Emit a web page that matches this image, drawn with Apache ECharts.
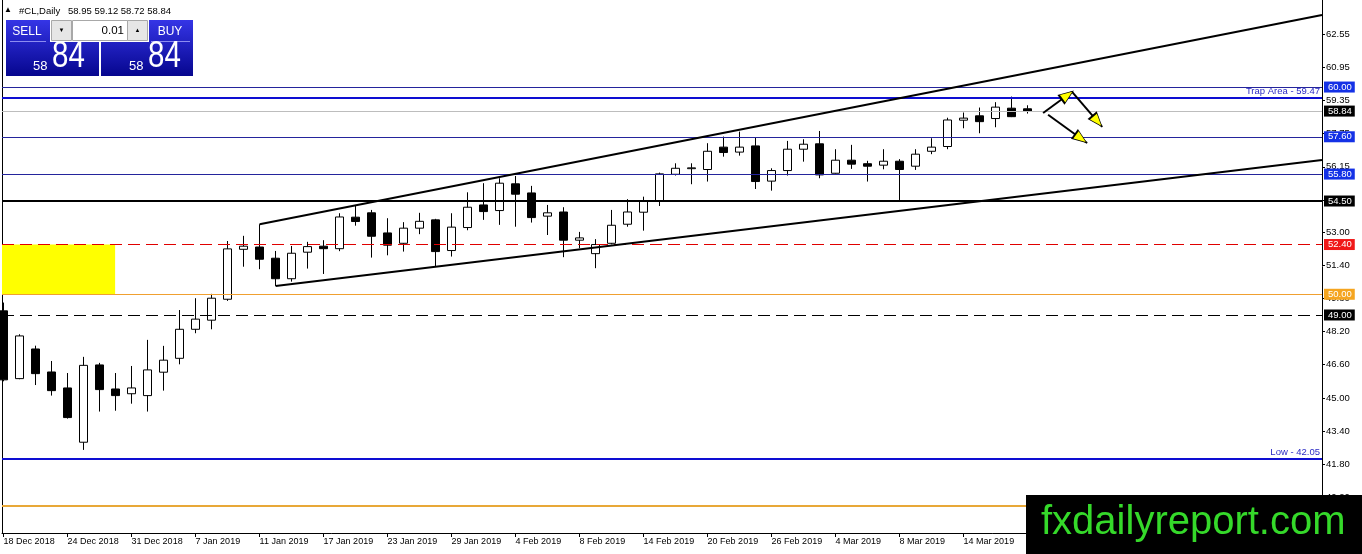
<!DOCTYPE html>
<html>
<head>
<meta charset="utf-8">
<title>#CL,Daily</title>
<script src="https://cdn.jsdelivr.net/npm/echarts@6/dist/echarts.min.js"></script>
<style>
html, body { margin: 0; padding: 0; background: #fff; }
#chart { width: 1362px; height: 554px; }
</style>
</head>
<body>
<div id="chart"></div>
<script>
// 日线数据 (开 收 低 高)
var dates = [
    '18 Dec 2018', '19 Dec 2018', '20 Dec 2018', '21 Dec 2018', '24 Dec 2018', '26 Dec 2018', '27 Dec 2018', '28 Dec 2018',
    '31 Dec 2018', '2 Jan 2019', '3 Jan 2019', '4 Jan 2019', '7 Jan 2019', '8 Jan 2019', '9 Jan 2019', '10 Jan 2019',
    '11 Jan 2019', '14 Jan 2019', '15 Jan 2019', '16 Jan 2019', '17 Jan 2019', '18 Jan 2019', '21 Jan 2019', '22 Jan 2019',
    '23 Jan 2019', '24 Jan 2019', '25 Jan 2019', '28 Jan 2019', '29 Jan 2019', '30 Jan 2019', '31 Jan 2019', '1 Feb 2019',
    '4 Feb 2019', '5 Feb 2019', '6 Feb 2019', '7 Feb 2019', '8 Feb 2019', '11 Feb 2019', '12 Feb 2019', '13 Feb 2019',
    '14 Feb 2019', '15 Feb 2019', '18 Feb 2019', '19 Feb 2019', '20 Feb 2019', '21 Feb 2019', '22 Feb 2019', '25 Feb 2019',
    '26 Feb 2019', '27 Feb 2019', '28 Feb 2019', '1 Mar 2019', '4 Mar 2019', '5 Mar 2019', '6 Mar 2019', '7 Mar 2019',
    '8 Mar 2019', '11 Mar 2019', '12 Mar 2019', '13 Mar 2019', '14 Mar 2019', '15 Mar 2019', '18 Mar 2019', '19 Mar 2019',
    '20 Mar 2019'
];
var opens = [
    49.20, 45.93, 47.36, 46.25, 45.48, 42.86, 46.59, 45.43, 45.20, 45.11, 46.24, 46.91, 48.31, 48.75, 49.76, 52.17,
    52.28, 51.74, 50.75, 52.03, 52.32, 52.20, 53.72, 53.93, 52.96, 52.46, 53.19, 53.59, 52.11, 53.22, 54.31, 54.04,
    55.33, 54.89, 53.77, 53.97, 52.61, 51.96, 52.46, 53.38, 53.96, 54.50, 55.79, 56.06, 56.02, 57.10, 56.86, 57.16,
    55.46, 55.97, 57.00, 57.26, 55.84, 56.47, 56.30, 56.23, 56.42, 56.18, 56.90, 57.13, 58.40, 58.61, 58.48, 58.98,
    58.95
];
var closes = [
    45.87, 47.99, 46.17, 45.35, 44.05, 46.57, 45.40, 45.11, 45.48, 46.35, 46.82, 48.31, 48.80, 49.81, 52.19, 52.32,
    51.69, 50.75, 51.98, 52.30, 52.20, 53.73, 53.51, 52.80, 52.37, 53.19, 53.52, 52.06, 53.24, 54.20, 53.99, 55.36,
    54.83, 53.70, 53.93, 52.61, 52.72, 52.40, 53.33, 53.97, 54.50, 55.81, 56.08, 56.10, 56.90, 56.84, 57.10, 55.44,
    55.97, 57.00, 57.24, 55.76, 56.47, 56.28, 56.18, 56.42, 56.02, 56.76, 57.10, 58.41, 58.50, 58.33, 59.03, 58.57,
    58.84
];
var lows = [
    45.80, 45.90, 45.62, 45.11, 44.00, 42.49, 44.34, 44.38, 44.72, 44.34, 45.35, 46.62, 48.12, 48.31, 49.68, 51.33,
    51.21, 50.40, 50.61, 51.24, 50.98, 52.08, 53.31, 51.77, 51.88, 52.06, 52.90, 51.33, 51.82, 53.09, 53.59, 53.35,
    53.26, 53.46, 52.86, 51.79, 52.22, 51.26, 52.41, 53.26, 53.07, 54.26, 55.73, 55.31, 55.44, 56.64, 56.69, 55.08,
    55.00, 55.73, 56.40, 55.60, 55.82, 56.05, 55.44, 56.03, 54.55, 56.00, 56.76, 57.00, 58.01, 57.77, 58.06, 58.55,
    58.72
];
var highs = [
    49.60, 48.07, 47.52, 46.78, 46.20, 46.98, 46.69, 46.20, 46.54, 47.80, 47.51, 49.24, 49.81, 50.02, 52.57, 52.82,
    53.38, 52.09, 52.33, 52.53, 52.61, 53.91, 54.26, 54.07, 53.67, 53.48, 53.93, 53.64, 53.91, 54.92, 55.36, 55.60,
    55.71, 55.23, 54.31, 54.20, 53.01, 52.66, 54.07, 54.59, 54.71, 55.87, 56.32, 56.32, 57.29, 57.61, 57.85, 57.56,
    56.08, 57.40, 57.48, 57.88, 57.00, 57.21, 56.44, 57.00, 56.52, 57.00, 57.53, 58.52, 58.77, 59.01, 59.27, 59.54,
    59.12
];

// 坐标轴刻度
var xTicks = [0, 4, 8, 12, 16, 20, 24, 28, 32, 36, 40, 44, 48, 52, 56, 60, 64];
var yTicks = [40.20, 41.80, 43.40, 45.00, 46.60, 48.20, 49.80, 51.40, 53.00, 54.55, 56.15, 57.75, 59.35, 60.95, 62.55];

// 水平价位线
var levels = [60.00, 59.47, 58.84, 57.60, 55.80, 54.50, 52.40, 50.00, 49.00, 42.05, 39.80];
var levelNotes = ['', 'Trap Area - 59.47', '', '', '', '', '', '', '', 'Low - 42.05', ''];

// 通道线 / 箭头 / 黄色区域 (x = K线序号, y = 价格)
var channelUpper = [[16, 53.38], [82.4, 63.48]];
var channelLower = [[17, 50.40], [82.4, 56.48]];
var arrows = [
    [[64.97, 58.75], [66.78, 59.77]],
    [[66.78, 59.77], [68.66, 58.08]],
    [[65.28, 58.66], [67.72, 57.30]]
];
var trapZone = [[-0.1, 52.40], [6.97, 50.00]];

var quote = ['58.95', '59.12', '58.72', '58.84'];
var bidBig = ['58', '84'];

var font = '"Liberation Sans", Arial, sans-serif';
var blueBox = '#1431e6';

var levelStyles = [
    { color: '#24249c', width: 1, type: 'solid', box: blueBox },
    { color: '#0e0ed2', width: 2, type: 'solid', box: null },
    { color: '#bdbdbd', width: 1, type: 'solid', box: '#000' },
    { color: '#24249c', width: 1, type: 'solid', box: blueBox },
    { color: '#24249c', width: 1, type: 'solid', box: blueBox },
    { color: '#000', width: 2, type: 'solid', box: '#000' },
    { color: '#e00000', width: 1, type: [12, 6], box: '#f01818' },
    { color: '#f0a030', width: 1, type: 'solid', box: '#f5a520' },
    { color: '#000', width: 1, type: [12, 6], box: '#000' },
    { color: '#0e0ed2', width: 2, type: 'solid', box: null },
    { color: '#e8a838', width: 2, type: 'solid', box: null }
];

(function () {
    var myChart = echarts.init(document.getElementById('chart'));

    var candles = dates.map(function (d, i) {
        return [i, opens[i], closes[i], lows[i], highs[i]];
    });

    var lines = [];
    levels.forEach(function (v, i) {
        var s = levelStyles[i];
        var item = { yAxis: v, lineStyle: { color: s.color, width: s.width, type: s.type } };
        if (s.box) {
            item.label = {
                show: true, position: 'end', distance: 2, formatter: v.toFixed(2),
                backgroundColor: s.box, color: '#fff', padding: [1, 3, 0, 4],
                fontSize: 9.5, lineHeight: 10, fontFamily: font
            };
        } else if (levelNotes[i]) {
            item.label = {
                show: true, position: 'insideEndTop', distance: 2, formatter: levelNotes[i],
                color: '#2b2bc4', fontSize: 9.5, fontFamily: font
            };
        }
        lines.push(item);
    });

    [channelUpper, channelLower].forEach(function (c) {
        lines.push([
            { coord: c[0], lineStyle: { color: '#000', width: 2, type: 'solid' } },
            { coord: c[1] }
        ]);
    });

    // 箭头: 黑线, 箭头头部黑边 + 黄色填充
    function along(a, t) {
        return [a[0][0] + (a[1][0] - a[0][0]) * t, a[0][1] + (a[1][1] - a[0][1]) * t];
    }
    arrows.forEach(function (a) {
        lines.push([
            { coord: a[0], lineStyle: { color: '#000', width: 2, type: 'solid' } },
            { coord: a[1] }
        ]);
    });
    arrows.forEach(function (a) {
        lines.push([
            { coord: along(a, 0.7), lineStyle: { color: '#000', width: 0, type: 'solid' } },
            { coord: along(a, 0.84), symbol: 'triangle', symbolSize: [12, 16] }
        ]);
        lines.push([
            { coord: along(a, 0.7), lineStyle: { color: '#ffff00', width: 0, type: 'solid' } },
            { coord: along(a, 0.84), symbol: 'triangle', symbolSize: [9, 12] }
        ]);
    });

    var yMin = 38.48, yMax = 64.2;

    var option = {
        animation: false,
        grid: { left: 2, right: 40, top: 0, bottom: 21 },
        xAxis: {
            type: 'value',
            min: -0.1,
            max: 82.4,
            axisLine: { onZero: false, lineStyle: { color: '#000', width: 1 } },
            axisTick: { customValues: xTicks, length: 4, lineStyle: { color: '#000' } },
            axisLabel: {
                customValues: xTicks,
                formatter: function (v) { return dates[Math.round(v)] || ''; },
                align: 'left', color: '#000', fontSize: 9, fontFamily: font, margin: 4
            },
            splitLine: { show: false }
        },
        yAxis: [{
            type: 'value',
            position: 'right',
            min: yMin,
            max: yMax,
            axisLine: { show: true, onZero: false, lineStyle: { color: '#000', width: 1 } },
            axisTick: { show: true, customValues: yTicks, length: 3, lineStyle: { color: '#000' } },
            axisLabel: {
                customValues: yTicks,
                formatter: function (v) { return v.toFixed(2); },
                color: '#000', fontSize: 9.5, fontFamily: font, margin: 4
            },
            splitLine: { show: false }
        }, {
            type: 'value',
            position: 'left',
            min: yMin,
            max: yMax,
            axisLine: { show: true, onZero: false, lineStyle: { color: '#000', width: 1 } },
            axisTick: { show: false },
            axisLabel: { show: false },
            splitLine: { show: false }
        }],
        series: [{
            type: 'candlestick',
            data: candles,
            encode: { x: 0, y: [1, 2, 3, 4] },
            barWidth: 9,
            clip: true,
            itemStyle: {
                color: '#fff', color0: '#000',
                borderColor: '#000', borderColor0: '#000', borderWidth: 1
            },
            markArea: {
                silent: true,
                itemStyle: { color: '#ffff00' },
                data: [[{ coord: trapZone[0] }, { coord: trapZone[1] }]]
            },
            markLine: {
                silent: true,
                symbol: 'none',
                animation: false,
                label: { show: false },
                data: lines
            }
        }],
        graphic: [
            // 标题
            { type: 'text', x: 4, y: 10, style: { text: '▲', fontSize: 8, fontFamily: font, fill: '#000', verticalAlign: 'middle' } },
            { type: 'text', x: 19, y: 11, style: { text: '#CL,Daily', fontSize: 9.5, fontFamily: font, fill: '#000', verticalAlign: 'middle' } },
            { type: 'text', x: 68, y: 11, style: { text: quote.join(' '), fontSize: 9.5, fontFamily: font, fill: '#000', verticalAlign: 'middle' } },
            // 一键交易面板
            {
                type: 'rect', shape: { x: 6, y: 20, width: 93, height: 56 },
                style: { fill: new echarts.graphic.LinearGradient(0, 0, 0, 1, [{ offset: 0, color: '#3535e6' }, { offset: 1, color: '#06068e' }]) }
            },
            {
                type: 'rect', shape: { x: 101, y: 20, width: 92, height: 56 },
                style: { fill: new echarts.graphic.LinearGradient(0, 0, 0, 1, [{ offset: 0, color: '#3535e6' }, { offset: 1, color: '#06068e' }]) }
            },
            { type: 'rect', shape: { x: 50, y: 19, width: 99, height: 23 }, style: { fill: '#ffffff' } },
            { type: 'rect', shape: { x: 51.5, y: 20.5, width: 20, height: 20 }, style: { fill: '#e6e6e6', stroke: '#a8a8a8', lineWidth: 1 } },
            { type: 'rect', shape: { x: 72.5, y: 20.5, width: 55, height: 20 }, style: { fill: '#ffffff', stroke: '#a8a8a8', lineWidth: 1 } },
            { type: 'rect', shape: { x: 127.5, y: 20.5, width: 20, height: 20 }, style: { fill: '#e6e6e6', stroke: '#a8a8a8', lineWidth: 1 } },
            { type: 'text', x: 61.5, y: 30.5, style: { text: '▼', fontSize: 6, fill: '#000', align: 'center', verticalAlign: 'middle' } },
            { type: 'text', x: 137.5, y: 30, style: { text: '▲', fontSize: 6, fill: '#000', align: 'center', verticalAlign: 'middle' } },
            { type: 'text', x: 124, y: 31, style: { text: '0.01', fontSize: 11.5, fontFamily: font, fill: '#000', align: 'right', verticalAlign: 'middle' } },
            { type: 'text', x: 27, y: 31.5, style: { text: 'SELL', fontSize: 12, fontFamily: font, fill: '#fff', align: 'center', verticalAlign: 'middle' } },
            { type: 'text', x: 170, y: 31.5, style: { text: 'BUY', fontSize: 12, fontFamily: font, fill: '#fff', align: 'center', verticalAlign: 'middle' } },
            { type: 'line', shape: { x1: 10, y1: 41.5, x2: 46, y2: 41.5 }, style: { stroke: '#8c8cf0', lineWidth: 1 } },
            { type: 'line', shape: { x1: 151, y1: 41.5, x2: 190, y2: 41.5 }, style: { stroke: '#8c8cf0', lineWidth: 1 } },
            { type: 'text', x: 33, y: 66.5, style: { text: bidBig[0], fontSize: 13, fontFamily: font, fill: '#fff', verticalAlign: 'middle' } },
            { type: 'text', x: 52, y: 57, scaleX: 0.82, style: { text: bidBig[1], fontSize: 36, fontFamily: font, fill: '#fff', verticalAlign: 'middle' } },
            { type: 'text', x: 129, y: 66.5, style: { text: bidBig[0], fontSize: 13, fontFamily: font, fill: '#fff', verticalAlign: 'middle' } },
            { type: 'text', x: 148, y: 57, scaleX: 0.82, style: { text: bidBig[1], fontSize: 36, fontFamily: font, fill: '#fff', verticalAlign: 'middle' } },
            // 水印
            { type: 'rect', z: 100, shape: { x: 1026, y: 495, width: 336, height: 59 }, style: { fill: '#000' } },
            { type: 'text', z: 101, x: 1041, y: 522.5, style: { text: 'fxdailyreport.com', fontSize: 40, fontFamily: font, fill: '#35d92a', verticalAlign: 'middle' } }
        ]
    };
    myChart.setOption(option);
    window.addEventListener("resize", function () {
        myChart.resize();
    });
})();
</script>
</body>
</html>
